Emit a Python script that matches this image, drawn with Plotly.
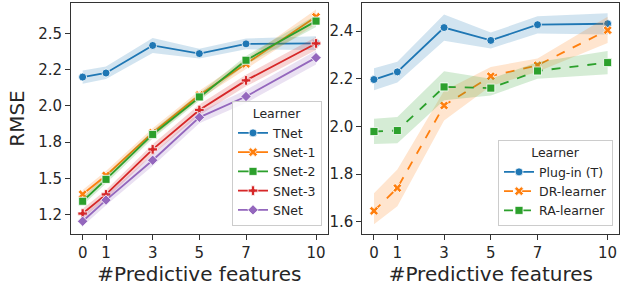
import plotly.graph_objects as go

# ---------------- data ----------------
x_features = [0, 1, 3, 5, 7, 10]
x_ticks = [0, 1, 3, 5, 7, 10]

left_learners = ["TNet", "SNet-1", "SNet-2", "SNet-3", "SNet"]
tnet_mean = [2.199, 2.227, 2.417, 2.361, 2.428, 2.432]
tnet_lo = [2.152, 2.185, 2.365, 2.327, 2.390, 2.386]
tnet_hi = [2.244, 2.272, 2.468, 2.394, 2.465, 2.480]

snet1_mean = [1.390, 1.520, 1.815, 2.075, 2.290, 2.615]
snet1_lo = [1.360, 1.490, 1.785, 2.045, 2.255, 2.565]
snet1_hi = [1.420, 1.550, 1.845, 2.105, 2.325, 2.665]

snet2_mean = [1.342, 1.493, 1.803, 2.062, 2.315, 2.585]
snet2_lo = [1.315, 1.465, 1.775, 2.035, 2.285, 2.545]
snet2_hi = [1.370, 1.520, 1.830, 2.090, 2.345, 2.625]

snet3_mean = [1.257, 1.389, 1.700, 1.972, 2.176, 2.431]
snet3_lo = [1.225, 1.355, 1.665, 1.935, 2.135, 2.385]
snet3_hi = [1.290, 1.420, 1.735, 2.010, 2.215, 2.475]

snet_mean = [1.204, 1.350, 1.625, 1.921, 2.065, 2.333]
snet_lo = [1.170, 1.315, 1.585, 1.880, 2.020, 2.285]
snet_hi = [1.240, 1.385, 1.665, 1.960, 2.110, 2.380]

left_yticks = [1.25, 1.5, 1.75, 2.0, 2.25, 2.5]
left_yticklabels = ["1.2", "1.5", "1.8", "2.0", "2.2", "2.5"]

right_learners = ["Plug-in (T)", "DR-learner", "RA-learner"]
plugin_mean = [2.197, 2.229, 2.415, 2.361, 2.427, 2.431]
plugin_lo = [2.152, 2.185, 2.360, 2.327, 2.390, 2.386]
plugin_hi = [2.244, 2.272, 2.470, 2.394, 2.462, 2.475]

dr_mean = [1.646, 1.742, 2.088, 2.211, 2.257, 2.404]
dr_lo = [1.590, 1.665, 2.025, 2.170, 2.230, 2.350]
dr_hi = [1.720, 1.820, 2.150, 2.250, 2.285, 2.460]

ra_mean = [1.979, 1.983, 2.166, 2.161, 2.233, 2.268]
ra_lo = [1.927, 1.930, 2.110, 2.130, 2.200, 2.219]
ra_hi = [2.032, 2.040, 2.232, 2.200, 2.270, 2.317]

right_yticks = [1.6, 1.8, 2.0, 2.2, 2.4]
right_yticklabels = ["1.6", "1.8", "2.0", "2.2", "2.4"]

# ---------------- styles ----------------
COLORS = ["#1f77b4", "#ff7f0e", "#2ca02c", "#d62728", "#9467bd"]
FILLS = ["rgba(31,119,180,0.2)", "rgba(255,127,14,0.2)", "rgba(44,160,44,0.2)",
         "rgba(214,39,40,0.2)", "rgba(148,103,189,0.2)"]
LEFT_SYMBOLS = ["circle", "x", "square", "cross", "diamond"]
RIGHT_SYMBOLS = ["circle", "x", "square"]
RIGHT_DASH = ["solid", "dash", "dash"]
FONT = "DejaVu Sans"
TXT = "#262626"

fig = go.Figure()


def add_series(name, mean, lo, hi, ci, symbol, dash, xa, ya, legend):
    fig.add_trace(go.Scatter(x=x_features, y=hi, mode="lines", line=dict(width=0),
                             showlegend=False, hoverinfo="skip", xaxis=xa, yaxis=ya))
    fig.add_trace(go.Scatter(x=x_features, y=lo, mode="lines", line=dict(width=0),
                             fill="tonexty", fillcolor=FILLS[ci], showlegend=False,
                             hoverinfo="skip", xaxis=xa, yaxis=ya))
    fig.add_trace(go.Scatter(x=x_features, y=mean, mode="lines+markers", name=name,
                             line=dict(color=COLORS[ci], width=1.8, dash=dash),
                             marker=dict(symbol=symbol, size=8, color=COLORS[ci],
                                         line=dict(color="white", width=0.8)),
                             xaxis=xa, yaxis=ya, legend=legend))


left_data = [(tnet_mean, tnet_lo, tnet_hi), (snet1_mean, snet1_lo, snet1_hi),
             (snet2_mean, snet2_lo, snet2_hi), (snet3_mean, snet3_lo, snet3_hi),
             (snet_mean, snet_lo, snet_hi)]
for i, (name, (m, lo, hi)) in enumerate(zip(left_learners, left_data)):
    add_series(name, m, lo, hi, i, LEFT_SYMBOLS[i], "solid", "x", "y", "legend")

right_data = [(plugin_mean, plugin_lo, plugin_hi), (dr_mean, dr_lo, dr_hi),
              (ra_mean, ra_lo, ra_hi)]
for i, (name, (m, lo, hi)) in enumerate(zip(right_learners, right_data)):
    add_series(name, m, lo, hi, i, RIGHT_SYMBOLS[i], RIGHT_DASH[i], "x2", "y2", "legend2")

W, H = 626, 288
ydom = [1 - 234 / H, 1 - 3 / H]

axis_common = dict(showline=True, linecolor="#333333", linewidth=1, mirror=True,
                   ticks="outside", ticklen=5, tickwidth=1, tickcolor="#333333",
                   showgrid=False, zeroline=False,
                   tickfont=dict(family=FONT, size=15, color=TXT))

legend_common = dict(yanchor="bottom", xanchor="right",
                     bgcolor="rgba(255,255,255,0.8)", bordercolor="#cccccc", borderwidth=1,
                     font=dict(family=FONT, size=12.5, color=TXT),
                     title=dict(text="Learner", side="top center",
                                font=dict(family=FONT, size=12.5, color=TXT)),
                     traceorder="normal", tracegroupgap=0)

fig.update_layout(
    width=W, height=H, margin=dict(l=0, r=0, t=0, b=0, autoexpand=False),
    paper_bgcolor="white", plot_bgcolor="white",
    font=dict(family=FONT, color=TXT),
    xaxis=dict(domain=[71 / W, 327.7 / W], range=[-0.5, 10.5], tickvals=x_ticks,
               title=dict(text="#Predictive features", font=dict(size=20, family=FONT, color=TXT),
                          standoff=4),
               **axis_common),
    yaxis=dict(domain=ydom, range=[1.116, 2.71], tickvals=left_yticks,
               ticktext=left_yticklabels,
               title=dict(text="RMSE", font=dict(size=20, family=FONT, color=TXT), standoff=8),
               **axis_common),
    xaxis2=dict(domain=[362.3 / W, 619.3 / W], range=[-0.5, 10.5], tickvals=x_ticks,
                anchor="y2",
                title=dict(text="#Predictive features", font=dict(size=20, family=FONT, color=TXT),
                           standoff=4),
                **axis_common),
    yaxis2=dict(domain=ydom, range=[1.549, 2.518], tickvals=right_yticks,
                ticktext=right_yticklabels, anchor="x2", **axis_common),
    legend=dict(x=322 / W, y=1 - 226 / H, **legend_common),
    legend2=dict(x=613 / W, y=1 - 226 / H, **legend_common),
)

fig.write_html("out.html", config={"displayModeBar": False},
               post_script="document.body.style.margin='0px';document.body.style.overflow='hidden';")
